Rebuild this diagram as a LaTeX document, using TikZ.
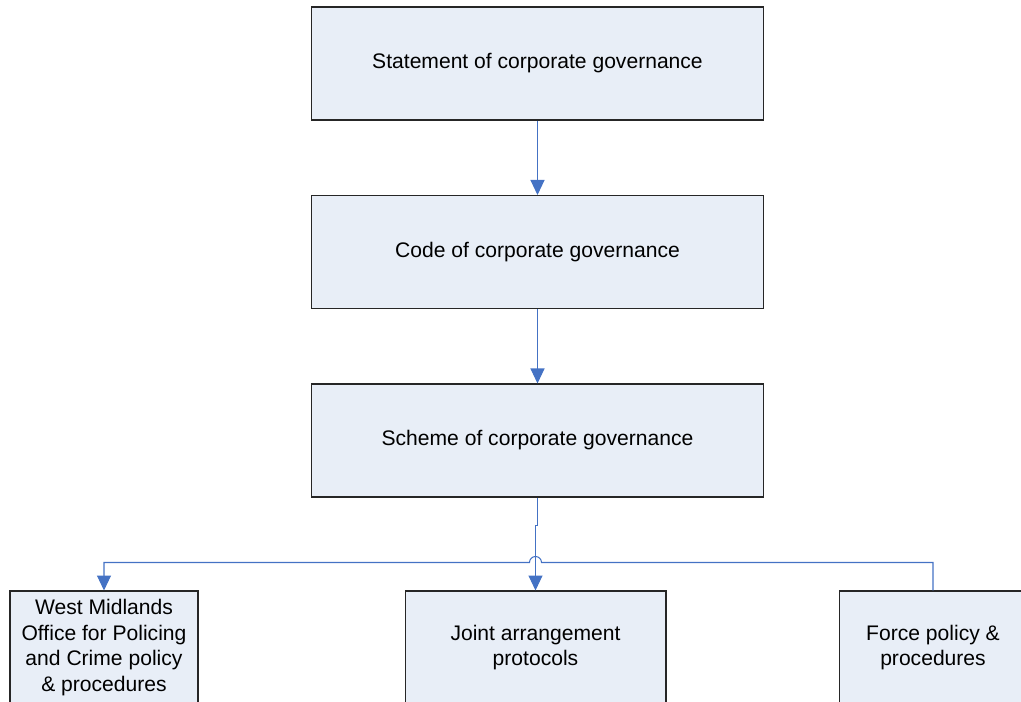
\documentclass[tikz,border=0pt]{standalone}
\usepackage{fontspec}
\setmainfont{Liberation Sans}
\usepackage{xcolor}
\usetikzlibrary{arrows.meta}
\usetikzlibrary{positioning}
\usetikzlibrary{calc}
\definecolor{boxfill}{RGB}{232,238,247}
\definecolor{linkblue}{RGB}{68,114,196}

\begin{document}
\begin{tikzpicture}[x=0.02cm, y=-0.02cm,
		box/.style={draw=black!85, line width=0.6pt, fill=boxfill, align=center,
			font=\fontsize{12}{14.5}\selectfont, inner sep=0pt},
		wide/.style={box, minimum width=9.06cm, minimum height=2.26cm},
		conn/.style={draw=linkblue, line width=0.6pt},
		arr/.style={conn, -{Triangle[width=0.28cm, length=0.3cm]}}]
				\useasboundingbox (0,0) rectangle (1021,701);
				% draw boxes
				\node[wide] (stmt) at (537.5,63.5) {Statement of corporate governance};
				\node[wide] (code) at (537.5,252) {Code of corporate governance};
				\node[wide] (scheme) at (537.5,440.5) {Scheme of corporate governance};
				\node[box, minimum width=3.76cm, minimum height=2.26cm] (wmopc) at (104,647.5)
					{West Midlands\\Office for Policing\\and Crime policy\\\& procedures};
				\node[box, minimum width=5.22cm, minimum height=2.26cm] (joint) at (535.5,647.5)
					{Joint arrangement\\protocols};
				\node[box, minimum width=3.76cm, minimum height=2.26cm] (force) at (933,647.5)
					{Force policy \&\\procedures};
				% add arrows
				\draw[arr] (stmt) -- (code);
				\draw[arr] (code) -- (scheme);
				\draw[arr] (scheme.south) -- ++(0,28) -| (joint.north);
				% bus line with a hop over the middle arrow
				\coordinate (hop) at ($(joint.north)+(0,-28)$);
				\draw[arr] (force.north) |- ($(hop)+(6,0)$)
					arc[start angle=0, end angle=180, radius=0.12cm] -| (wmopc.north);
			\end{tikzpicture}
\end{document}
